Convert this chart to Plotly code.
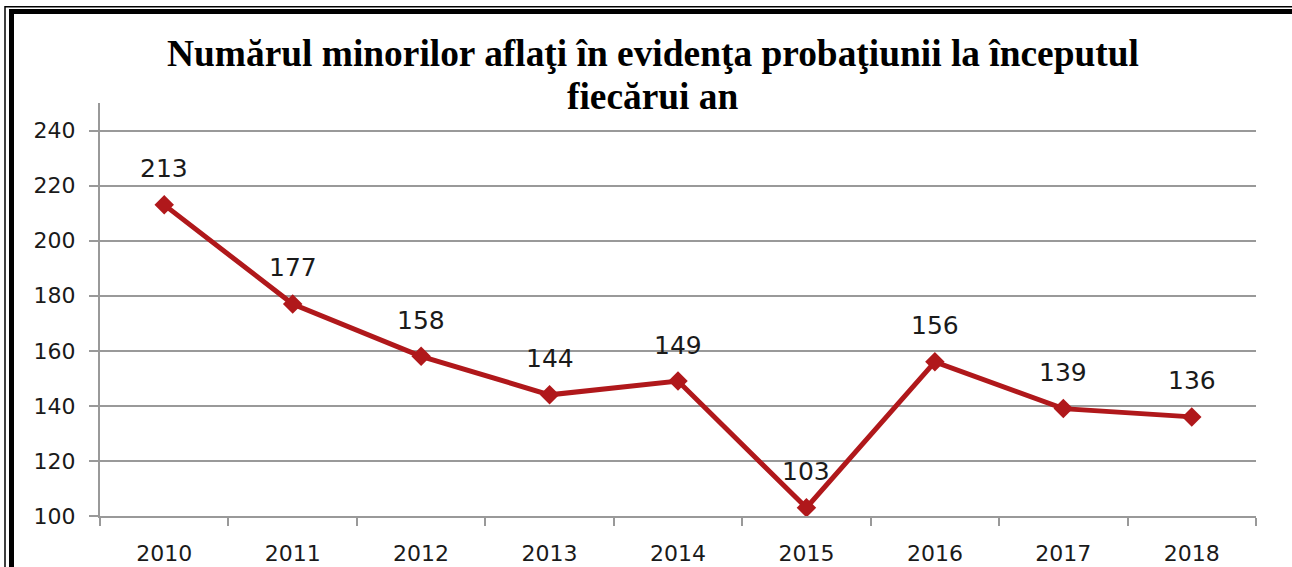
import plotly.graph_objects as go

years = ["2010", "2011", "2012", "2013", "2014", "2015", "2016", "2017", "2018"]
values = [213, 177, 158, 144, 149, 103, 156, 139, 136]
title_lines = ["Numărul minorilor aflaţi în evidenţa probaţiunii la începutul", "fiecărui an"]

W, H = 1292, 567
L, R, T, B = 100, 1256, 103, 516

def px(x):
    return (x - L) / (R - L)

def py(y):
    return (B - y) / (B - T)

RED = "#B0181B"
fig = go.Figure()
fig.add_trace(go.Scatter(
    x=years, y=values, mode="lines+markers",
    line=dict(color=RED, width=5),
    marker=dict(symbol="diamond", size=15, color=RED),
    hoverinfo="x+y", showlegend=False,
))

for i, v in enumerate(values):
    fig.add_annotation(x=i, y=v, xref="x", yref="y", text=str(v), showarrow=False, yshift=36,
                       font=dict(family="DejaVu Sans", size=25, color="#1a1a1a"))

for line, yc in zip(title_lines, [53, 96]):
    fig.add_annotation(xref="paper", yref="paper", x=px(653), y=py(yc), xanchor="center", yanchor="middle",
                       text="<b>" + line + "</b>", showarrow=False,
                       font=dict(family="Liberation Serif", size=37.4, color="black"))

# frame
fig.add_shape(type="rect", xref="paper", yref="paper", x0=px(5), y0=py(6.7), x1=px(1310), y1=py(600),
              line=dict(color="black", width=1.5), layer="above")
fig.add_shape(type="rect", xref="paper", yref="paper", x0=px(11.5), y0=py(11.5), x1=px(1320), y1=py(610),
              line=dict(color="black", width=5), layer="above")

fig.update_layout(
    width=W, height=H,
    margin=dict(l=L, r=W - R, t=T, b=H - B, autoexpand=False),
    paper_bgcolor="white", plot_bgcolor="white",
    font=dict(family="DejaVu Sans", size=22, color="#1a1a1a"),
    xaxis=dict(type="category", range=[-0.5, 8.5], tickson="boundaries", ticks="outside", ticklen=8,
               tickwidth=2, tickcolor="#999999", showline=True, linecolor="#999999", linewidth=2,
               showgrid=False, ticklabelstandoff=17, automargin=False,
               tickfont=dict(size=22, color="#1a1a1a")),
    yaxis=dict(range=[100, 250], tick0=100, dtick=20, ticks="outside", ticklen=9, tickwidth=2,
               tickcolor="#999999", showline=True, linecolor="#999999", linewidth=2,
               showgrid=True, gridcolor="#999999", gridwidth=2, zeroline=False, automargin=False,
               ticklabelstandoff=9, tickfont=dict(size=22, color="#1a1a1a")),
)

fig.write_html("out.html", config={"displayModeBar": False},
               post_script="document.body.style.margin='0';document.body.style.overflow='hidden';")
